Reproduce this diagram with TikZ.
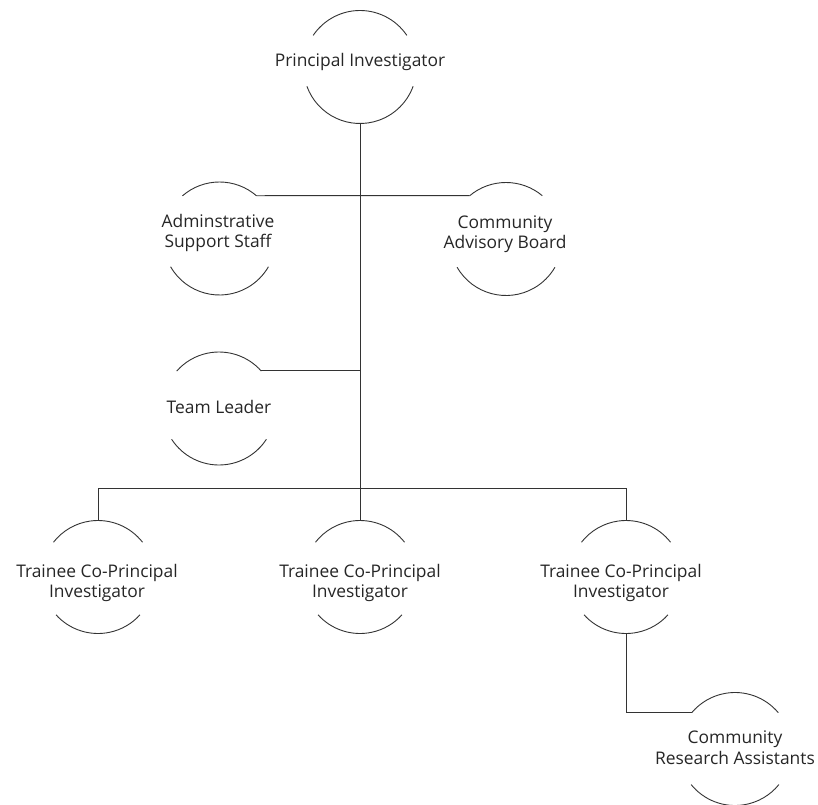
\documentclass[tikz,border=0pt]{standalone}
\usepackage{fontspec}
\setmainfont{Open Sans}
\newcommand\ringarcs[3]{%
  \draw[arcline] ([shift={(#2:56.5)}]#1.center) arc[start angle=#2, end angle={180-#2}, radius=56.5];
  \draw[arcline] ([shift={({180+#3}:56.5)}]#1.center) arc[start angle={180+#3}, end angle={360-#3}, radius=56.5];}
\begin{document}
\begin{tikzpicture}[x=1pt,y=1pt,
  ring/.style={circle, minimum size=113pt, inner sep=0pt, draw=none},
  lbl/.style={anchor=base, align=center, font=\fontsize{17.4}{20.5}\selectfont, text=black!85},
  conn/.style={line width=0.9pt, draw=black!80},
  arcline/.style={line width=0.9pt, draw=black!80}]
\useasboundingbox (0,0) rectangle (818,804);
% rings
\node[ring] (pi)  at (360,737) {};
\node[ring] (adm) at (219.5,565.5) {};
\node[ring] (cab) at (506,565) {};
\node[ring] (tl)  at (219,395.5) {};
\node[ring] (t1)  at (98,227) {};
\node[ring] (t2)  at (360,227) {};
\node[ring] (t3)  at (626,227) {};
\node[ring] (cra) at (735,55) {};
\ringarcs{pi}{34}{20}
\ringarcs{adm}{49}{30}
\ringarcs{cab}{50}{30}
\ringarcs{tl}{41.5}{33}
\ringarcs{t1}{38}{42}
\ringarcs{t2}{38}{42}
\ringarcs{t3}{38}{42}
\ringarcs{cra}{40}{39}
% labels (base anchor = baseline of the last line)
\node[lbl] (pi-t)  at (360,737) {Principal Investigator};
\node[lbl] (adm-t) at (218,556) {Adminstrative\\Support Staff};
\node[lbl] (cab-t) at (505,555) {Community\\Advisory Board};
\node[lbl] (tl-t)  at (219,391) {Team Leader};
\node[lbl] (t1-t)  at (97,206.5) {Trainee Co-Principal\\Investigator};
\node[lbl] (t2-t)  at (360,206.5) {Trainee Co-Principal\\Investigator};
\node[lbl] (t3-t)  at (621,206.5) {Trainee Co-Principal\\Investigator};
\node[lbl] (cra-t) at (735,40) {Community\\Research Assistants};
% connectors
\draw[conn] (pi.south) -- (t2.north);
\draw[conn] (adm.49) -- (cab.130);
\draw[conn] (tl.42) -- (tl.42 -| pi.south);
\draw[conn] (t1.north) -- ++(0,32) -| (t3.north);
\draw[conn] (t3.south) |- (cra.140);
\end{tikzpicture}
\end{document}
